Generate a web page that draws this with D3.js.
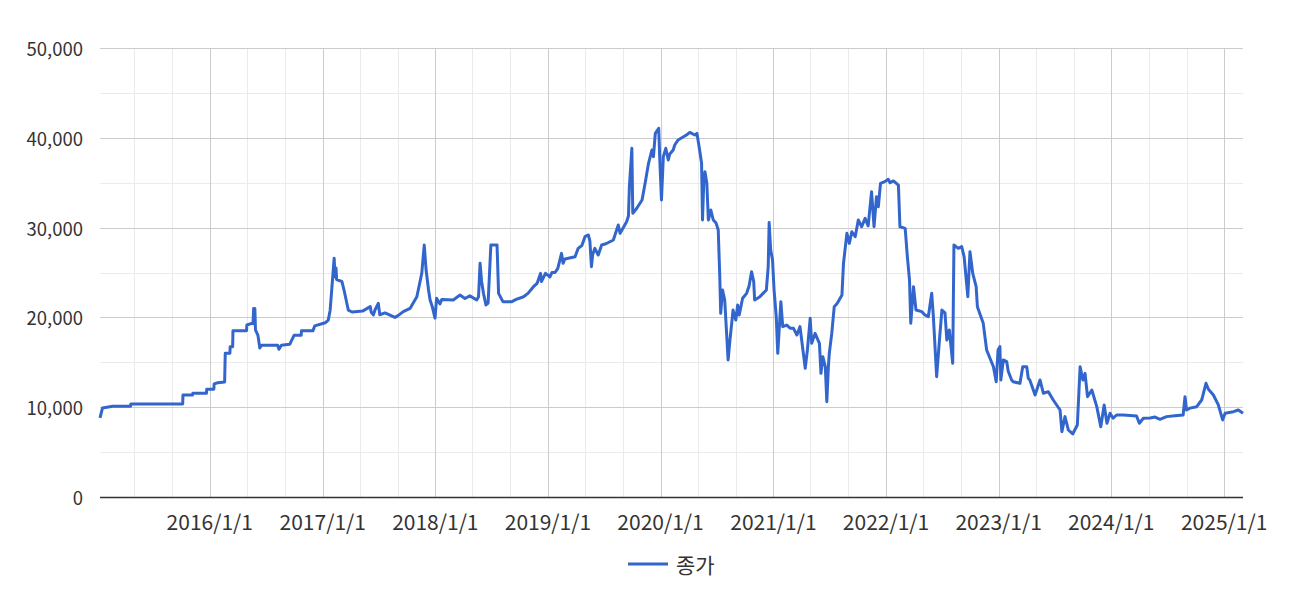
<!DOCTYPE html>
<html>
<head>
<meta charset="utf-8">
<script src="https://cdn.jsdelivr.net/npm/d3@7/dist/d3.min.js"></script>
<style>
  html, body { margin: 0; padding: 0; background: #fff; }
  svg { display: block; }
  text { font-family: "Noto Sans CJK KR", "Noto Sans", sans-serif; fill: #333; }
</style>
</head>
<body>
<svg id="chart" width="1290" height="589"></svg>
<script>
// ---- data ----
const seriesName = "종가";
const dates = [
"2015-01-10","2015-01-18","2015-02-20","2015-04-19","2015-04-20","2015-10-05","2015-10-06","2015-11-06","2015-11-07","2015-12-21","2015-12-22",
"2016-01-14","2016-01-15","2016-01-27","2016-02-18","2016-02-20","2016-03-06","2016-03-07","2016-03-15","2016-03-16","2016-04-29","2016-04-30",
"2016-05-16","2016-05-20","2016-05-22","2016-05-24","2016-05-26","2016-05-28","2016-06-05","2016-06-11","2016-06-17","2016-08-08","2016-08-12",
"2016-08-20","2016-09-16","2016-09-30","2016-10-23","2016-10-24","2016-11-30","2016-12-06",
"2017-01-09","2017-01-19","2017-01-25","2017-01-30","2017-02-07","2017-02-10","2017-02-13","2017-02-15","2017-03-04","2017-03-11","2017-03-25",
"2017-04-06","2017-05-10","2017-06-04","2017-06-07","2017-06-14","2017-06-19","2017-06-30","2017-07-05","2017-07-22","2017-08-23","2017-09-02",
"2017-09-19","2017-10-11","2017-11-02","2017-11-18","2017-11-26","2017-12-02","2017-12-10","2017-12-15","2017-12-22","2017-12-31",
"2018-01-05","2018-01-16","2018-01-22","2018-02-28","2018-03-22","2018-04-07","2018-04-23","2018-05-15","2018-05-21","2018-05-26","2018-05-31",
"2018-06-06","2018-06-14","2018-06-21","2018-06-30","2018-07-20","2018-07-25","2018-08-08","2018-09-06","2018-09-20","2018-10-14","2018-10-29",
"2018-11-15","2018-11-27","2018-12-08","2018-12-11","2018-12-24",
"2019-01-01","2019-01-07","2019-01-14","2019-01-24","2019-02-02","2019-02-14","2019-02-19","2019-02-25","2019-03-30","2019-04-09","2019-04-21",
"2019-05-01","2019-05-12","2019-05-17","2019-05-22","2019-05-26","2019-06-02","2019-06-13","2019-06-24","2019-07-08","2019-08-01","2019-08-17",
"2019-08-23","2019-09-13","2019-09-19","2019-09-22","2019-09-30","2019-10-03","2019-10-16","2019-11-02","2019-11-12","2019-11-23","2019-12-04",
"2019-12-09","2019-12-15","2019-12-26","2019-12-30",
"2020-01-04","2020-01-10","2020-01-18","2020-01-26","2020-01-31","2020-02-11","2020-02-16","2020-02-27","2020-03-10","2020-03-25","2020-04-05",
"2020-04-21","2020-04-28","2020-05-05","2020-05-13","2020-05-16","2020-05-20","2020-05-24","2020-05-30","2020-06-04","2020-06-12","2020-06-20",
"2020-06-29","2020-07-06","2020-07-11","2020-07-14","2020-07-20","2020-07-27","2020-08-07","2020-08-13","2020-08-23","2020-09-01","2020-09-07",
"2020-09-12","2020-09-23","2020-10-06","2020-10-14","2020-10-22","2020-10-29","2020-11-01","2020-11-18","2020-12-09","2020-12-15","2020-12-18",
"2020-12-23","2020-12-29",
"2021-01-03","2021-01-10","2021-01-15","2021-01-25","2021-01-31","2021-02-13","2021-02-24","2021-03-07","2021-03-18","2021-03-28","2021-04-14",
"2021-04-21","2021-04-30","2021-05-05","2021-05-16","2021-05-30","2021-06-04","2021-06-10","2021-06-18","2021-06-23","2021-06-28","2021-07-01",
"2021-07-09","2021-07-17","2021-07-27","2021-08-11","2021-08-16","2021-08-27","2021-09-04","2021-09-12","2021-09-23","2021-10-03","2021-10-14",
"2021-10-25","2021-11-04","2021-11-15","2021-11-23","2021-12-01","2021-12-07","2021-12-14","2021-12-28",
"2022-01-08","2022-01-14","2022-01-25","2022-02-10","2022-02-15","2022-03-04","2022-03-11","2022-03-18","2022-03-22","2022-03-31","2022-04-08",
"2022-04-27","2022-05-07","2022-05-18","2022-05-29","2022-06-03","2022-06-14","2022-06-23","2022-07-01","2022-07-11","2022-07-17","2022-07-25",
"2022-08-05","2022-08-09","2022-08-23","2022-09-03","2022-09-11","2022-09-23","2022-09-30","2022-10-09","2022-10-20","2022-10-24","2022-11-12",
"2022-11-23","2022-12-15","2022-12-24","2022-12-30",
"2023-01-05","2023-01-08","2023-01-16","2023-01-27","2023-02-01","2023-02-12","2023-02-17","2023-03-11","2023-03-20","2023-04-02","2023-04-07",
"2023-04-12","2023-04-29","2023-05-15","2023-05-26","2023-06-11","2023-06-27","2023-07-19","2023-07-25","2023-08-04","2023-08-15","2023-08-29",
"2023-09-13","2023-09-22","2023-10-01","2023-10-08","2023-10-16","2023-10-30","2023-11-15","2023-11-28","2023-12-09","2023-12-18","2023-12-28",
"2024-01-07","2024-01-18","2024-02-09","2024-03-02","2024-03-23","2024-04-01","2024-04-14","2024-05-06","2024-05-22","2024-06-07","2024-06-28",
"2024-07-25","2024-08-21","2024-08-27","2024-09-01","2024-09-12","2024-10-04","2024-10-20","2024-11-03","2024-11-11","2024-11-27","2024-12-13",
"2024-12-27","2025-01-04","2025-01-31","2025-02-16","2025-03-03"
];
const closes = [
8800,9900,10100,10100,10350,10350,11350,11350,11550,11550,12000,
12000,12580,12730,12800,16000,16000,16740,16740,18520,18520,19150,
19340,19300,21000,19400,21000,18600,18000,16600,16900,16900,16450,
16900,17000,18000,18000,18500,18500,19050,
19400,19700,20800,23000,26600,24500,25500,24200,24000,23050,20800,
20600,20700,21200,20600,20270,20800,21570,20300,20500,20000,20200,
20640,21000,22300,24900,28060,25280,23050,21940,21200,19930,
22130,21500,22000,21940,22490,22100,22400,21940,22300,26020,24000,
22680,21380,21600,28060,28060,22680,21750,21750,22000,22300,22700,
23420,23800,24900,24000,24900,
24700,24500,25000,25000,25460,27130,26020,26500,26760,27690,28000,
28990,29180,28500,25650,27000,27690,26950,28060,28200,28620,30290,
29360,30660,31300,34560,38830,31590,32150,33070,34930,37160,38640,
37900,40500,41060,37160,
33070,37900,38830,37530,38200,38640,39200,39760,40000,40310,40600,
40310,40500,39010,37160,30840,35000,36230,34930,30840,31960,30840,
30500,29730,24530,20450,23050,21940,15260,17480,20820,19710,21380,
20270,22130,22680,23500,25090,23980,21940,22310,23050,25650,30560,
27500,26390,
23050,20080,16000,21750,18970,19150,18800,18780,18040,18970,14330,
16370,19900,17110,18220,17110,13770,15620,14510,10610,14500,16000,
18220,21190,21570,22490,26020,29360,28250,29540,28990,30840,30100,
31030,30200,34000,30100,33440,32330,34930,35120,
35380,35000,35200,34740,30100,29920,26760,24160,19340,23420,20820,
20640,20270,20080,22680,20270,13400,17480,20820,20500,17480,18600,
14890,28060,27690,27900,26760,22310,27320,24900,23420,21190,19340,
16370,14510,12840,16370,
16740,13030,15260,15080,14000,13030,12840,12660,14510,14510,13220,
13030,11360,13030,11550,11730,10800,9690,7270,8950,7460,7020,
8020,14510,13030,13770,11170,11920,10060,7830,10250,8210,9320,
8770,9130,9130,9080,9020,8210,8770,8800,8900,8650,8950,
9050,9130,11170,9690,9900,10060,10800,12660,12000,11360,10250,
8580,9320,9500,9690,9320
];
const yTicks = [0, 10000, 20000, 30000, 40000, 50000];
const yMinorTicks = [5000, 15000, 25000, 35000, 45000];
const xTickLabels = ["2016/1/1","2017/1/1","2018/1/1","2019/1/1","2020/1/1","2021/1/1","2022/1/1","2023/1/1","2024/1/1","2025/1/1"];

// ---- chart ----
(function () {
const parse = d3.timeParse("%Y-%m-%d");
const parseTick = d3.timeParse("%Y/%-m/%-d");
const data = dates.map((d, i) => ({ date: parse(d), value: closes[i] }));
const xTickDates = xTickLabels.map(parseTick);

const plotL = 100, plotR = 1243, plotT = 48, plotB = 497;
const svg = d3.select("#chart");

const x = d3.scaleTime().domain(d3.extent(data, d => d.date)).range([plotL, plotR]);
const y = d3.scaleLinear().domain([0, 50000]).range([plotB, plotT]);

// minor vertical grid (every 4 months)
const minorX = d3.timeMonth.every(4).range(x.domain()[0], x.domain()[1])
  .filter(d => d.getMonth() !== 0);
svg.append("g").selectAll("line").data(minorX).join("line")
  .attr("x1", d => Math.round(x(d)) + 0.5).attr("x2", d => Math.round(x(d)) + 0.5)
  .attr("y1", plotT).attr("y2", plotB)
  .attr("stroke", "#ebebeb").attr("stroke-width", 1);

// minor horizontal grid
svg.append("g").selectAll("line").data(yMinorTicks).join("line")
  .attr("x1", plotL).attr("x2", plotR)
  .attr("y1", d => Math.round(y(d)) + 0.5).attr("y2", d => Math.round(y(d)) + 0.5)
  .attr("stroke", "#ebebeb").attr("stroke-width", 1);

// major vertical grid
svg.append("g").selectAll("line").data(xTickDates).join("line")
  .attr("x1", d => Math.round(x(d)) + 0.5).attr("x2", d => Math.round(x(d)) + 0.5)
  .attr("y1", plotT).attr("y2", plotB)
  .attr("stroke", "#cccccc").attr("stroke-width", 1);

// major horizontal grid
svg.append("g").selectAll("line").data(yTicks.filter(v => v > 0)).join("line")
  .attr("x1", plotL).attr("x2", plotR)
  .attr("y1", d => Math.round(y(d)) + 0.5).attr("y2", d => Math.round(y(d)) + 0.5)
  .attr("stroke", "#cccccc").attr("stroke-width", 1);

// y labels
svg.append("g").selectAll("text").data(yTicks).join("text")
  .attr("x", 83).attr("y", d => y(d))
  .attr("text-anchor", "end").attr("dominant-baseline", "central")
  .style("font-size", "18.5px")
  .text(d => d3.format(",")(d));

// x labels
svg.append("g").selectAll("text").data(xTickDates).join("text")
  .attr("x", d => x(d)).attr("y", 530)
  .attr("text-anchor", "middle")
  .style("font-size", "21px")
  .text((d, i) => xTickLabels[i]);

// line
svg.append("path").datum(data)
  .attr("fill", "none").attr("stroke", "#3366cc").attr("stroke-width", 3)
  .attr("stroke-linejoin", "round")
  .attr("d", d3.line().x(d => x(d.date)).y(d => y(d.value)));

// baseline
svg.append("line")
  .attr("x1", plotL).attr("x2", plotR).attr("y1", plotB + 0.5).attr("y2", plotB + 0.5)
  .attr("stroke", "#333").attr("stroke-width", 1.5);

// legend
const lg = svg.append("g");
lg.append("line").attr("x1", 628).attr("x2", 668).attr("y1", 564).attr("y2", 564)
  .attr("stroke", "#3366cc").attr("stroke-width", 3);
lg.append("text").attr("x", 676).attr("y", 564).attr("dominant-baseline", "central")
  .style("font-size", "21px").text(seriesName);
})();
</script>
</body>
</html>
